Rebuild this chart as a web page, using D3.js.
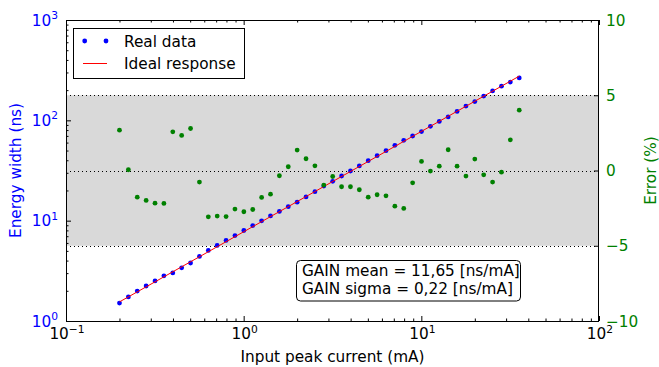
<!DOCTYPE html>
<html lang="en">
<head>
<meta charset="utf-8">
<script src="https://d3js.org/d3.v7.min.js"></script>
<style>
  body { margin: 0; background: #fff; }
  svg text { font-family: "DejaVu Sans", sans-serif; }
</style>
</head>
<body>
<script>
  // input peak current (mA)
  const currentMA = [0.2, 0.2244, 0.2518, 0.2825, 0.317, 0.3557, 0.3991, 0.4477, 0.5024, 0.5637,
    0.6325, 0.7096, 0.7962, 0.8934, 1.0024, 1.1247, 1.2619, 1.4159, 1.5887, 1.7825,
    2.0, 2.244, 2.518, 2.825, 3.17, 3.557, 3.991, 4.477, 5.024, 5.637,
    6.325, 7.096, 7.962, 8.934, 10.02, 11.25, 12.62, 14.16, 15.89, 17.83,
    20.0, 22.44, 25.18, 28.25, 31.7, 35.57];
  // measured energy width (ns)
  const energyWidth = [1.508, 1.738, 1.986, 2.233, 2.51, 2.817, 3.013, 3.389, 3.785, 4.403,
    5.053, 5.666, 6.36, 7.101, 7.982, 8.942, 9.955, 11.15, 12.36, 13.78,
    15.29, 17.26, 19.45, 22.11, 24.66, 27.86, 31.26, 35.14, 39.62, 44.39,
    49.84, 56.3, 63.26, 69.8, 77.22, 87.2, 97.51, 108.2, 122.8, 138.7,
    153.8, 174.4, 196.6, 219.2, 240.7, 264.6];
  // error (%)
  const errorPct = [2.68, 0.05, -1.77, -1.99, -2.17, -2.19, 2.57, 2.33, 2.79, -0.77,
    -3.08, -3.03, -3.06, -2.56, -2.74, -2.59, -1.79, -1.57, -0.35, 0.25,
    1.36, 0.78, 0.31, -0.97, -0.4, -1.08, -1.08, -1.28, -1.77, -1.61,
    -1.68, -2.37, -2.52, -0.82, 0.6, -0.04, 0.29, 1.38, 0.29, -0.37,
    0.76, -0.29, -0.77, -0.11, 2.04, 4.01];
  // ideal response line
  const idealX = [0.2, 35.57];
  const idealY = [1.55, 275.7];

  const xExp = [-1, 0, 1, 2];
  const yExp = [0, 1, 2, 3];
  const errTicks = [-10, -5, 0, 5, 10];
  const errBand = [-5, 5];
  const errLines = [-5, 0, 5];

  const W = 659, H = 367;
  const L = 66, R = 599, T = 20, B = 321;
  const fs = 15.3, fsSup = 10.7;

  const svg = d3.select("body").append("svg")
    .attr("width", W).attr("height", H);

  const x = d3.scaleLog().domain([0.1, 100]).range([L, R]);
  const y = d3.scaleLog().domain([1, 1000]).range([B, T]);
  const yErr = d3.scaleLinear().domain([-10, 10]).range([B, T]);

  // grey band and dotted guide lines
  svg.append("rect")
    .attr("x", L).attr("width", R - L)
    .attr("y", yErr(errBand[1])).attr("height", yErr(errBand[0]) - yErr(errBand[1]))
    .attr("fill", "#d9d9d9");

  svg.selectAll(".guide").data(errLines).enter().append("line")
    .attr("x1", L).attr("x2", R)
    .attr("y1", d => Math.round(yErr(d)) + 0.5).attr("y2", d => Math.round(yErr(d)) + 0.5)
    .attr("stroke", "#000").attr("stroke-width", 1)
    .attr("stroke-dasharray", "1,3");

  // real data
  svg.selectAll(".real").data(currentMA).enter().append("circle")
    .attr("cx", d => x(d))
    .attr("cy", (d, i) => y(energyWidth[i]))
    .attr("r", 2.4)
    .attr("fill", "#0000ff");

  // ideal response
  svg.append("path")
    .datum(idealX.map((d, i) => [d, idealY[i]]))
    .attr("fill", "none").attr("stroke", "#ff0000").attr("stroke-width", 1)
    .attr("d", d3.line().x(d => x(d[0])).y(d => y(d[1])));

  // error points (twin axis)
  svg.selectAll(".err").data(currentMA).enter().append("circle")
    .attr("cx", d => x(d))
    .attr("cy", (d, i) => yErr(errorPct[i]))
    .attr("r", 2.4)
    .attr("fill", "#008000");

  // ticks
  const isMajor = v => Math.abs(Math.log10(v) - Math.round(Math.log10(v))) < 1e-6;
  const xt = x.ticks();
  const yt = y.ticks();

  function logTicks(g, axis, ticks) {
    g.call(axis.tickValues(ticks).tickFormat("").tickSizeOuter(0));
    g.select(".domain").remove();
    g.selectAll(".tick line").attr("stroke", "#000");
  }

  const gBottom = svg.append("g").attr("transform", `translate(0,${B})`);
  logTicks(gBottom, d3.axisBottom(x).tickSizeInner(-5), xt);
  gBottom.selectAll(".tick line").attr("y2", d => isMajor(d) ? -5 : -2.5);

  const gTop = svg.append("g").attr("transform", `translate(0,${T})`);
  logTicks(gTop, d3.axisTop(x).tickSizeInner(-5), xt);
  gTop.selectAll(".tick line").attr("y2", d => isMajor(d) ? 5 : 2.5);

  const gLeft = svg.append("g").attr("transform", `translate(${L},0)`);
  logTicks(gLeft, d3.axisLeft(y).tickSizeInner(-5), yt);
  gLeft.selectAll(".tick line").attr("x2", d => isMajor(d) ? 5 : 2.5);

  const gRight = svg.append("g").attr("transform", `translate(${R},0)`);
  gRight.call(d3.axisRight(yErr).tickValues(errTicks).tickSizeInner(-5).tickSizeOuter(0).tickFormat(""));
  gRight.select(".domain").remove();
  gRight.selectAll(".tick line").attr("stroke", "#000");

  // frame
  svg.append("rect")
    .attr("x", L + 0.5).attr("y", T + 0.5)
    .attr("width", R - L - 1).attr("height", B - T)
    .attr("fill", "none").attr("stroke", "#000").attr("stroke-width", 1);

  // tick labels
  const minus = n => String(n).replace("-", "\u2212");

  function powLabel(sel) {
    sel.append("tspan").text("10");
    sel.append("tspan").attr("dy", -6.5).attr("font-size", fsSup).text(d => minus(d));
  }

  svg.selectAll(".xl").data(xExp).enter().append("text")
    .attr("x", d => x(Math.pow(10, d)) + 1)
    .attr("y", 339)
    .attr("text-anchor", "middle")
    .attr("font-size", fs).attr("fill", "#000")
    .call(powLabel);

  svg.selectAll(".yl").data(yExp).enter().append("text")
    .attr("x", 58)
    .attr("y", d => y(Math.pow(10, d)) + 5.5)
    .attr("text-anchor", "end")
    .attr("font-size", fs).attr("fill", "#0000ff")
    .call(powLabel);

  svg.selectAll(".el").data(errTicks).enter().append("text")
    .attr("x", 606)
    .attr("y", d => yErr(d) + 5.5)
    .attr("font-size", fs).attr("fill", "#008000")
    .text(d => minus(d));

  // axis titles
  svg.append("text")
    .attr("x", (L + R) / 2).attr("y", 362)
    .attr("text-anchor", "middle").attr("font-size", fs)
    .text("Input peak current (mA)");

  svg.append("text")
    .attr("transform", `translate(21,${(T + B) / 2}) rotate(-90)`)
    .attr("text-anchor", "middle").attr("font-size", fs).attr("fill", "#0000ff")
    .text("Energy width (ns)");

  svg.append("text")
    .attr("transform", `translate(655.5,${(T + B) / 2}) rotate(-90)`)
    .attr("text-anchor", "middle").attr("font-size", fs).attr("fill", "#008000")
    .text("Error (%)");

  // legend
  const lg = svg.append("g");
  lg.append("rect")
    .attr("x", 73.5).attr("y", 28.5).attr("width", 171).attr("height", 50)
    .attr("fill", "#fff").attr("stroke", "#000").attr("stroke-width", 1);
  lg.selectAll(".lm").data([84.7, 106]).enter().append("circle")
    .attr("cx", d => d).attr("cy", 41).attr("r", 2.4).attr("fill", "#0000ff");
  lg.append("line")
    .attr("x1", 83).attr("x2", 107).attr("y1", 63.5).attr("y2", 63.5)
    .attr("stroke", "#ff0000").attr("stroke-width", 1);
  lg.append("text").attr("x", 124).attr("y", 46.5).attr("font-size", fs).text("Real data");
  lg.append("text").attr("x", 124).attr("y", 69).attr("font-size", fs).text("Ideal response");

  // gain annotation
  const ann = ["GAIN mean = 11,65 [ns/mA]", "GAIN sigma = 0,22 [ns/mA]"];
  svg.append("rect")
    .attr("x", 296.5).attr("y", 260.5).attr("width", 224).attr("height", 40.5)
    .attr("rx", 4).attr("ry", 4)
    .attr("fill", "#fff").attr("stroke", "#000").attr("stroke-width", 1);
  svg.selectAll(".ann").data(ann).enter().append("text")
    .attr("x", 302).attr("y", (d, i) => 276 + i * 18.3)
    .attr("font-size", fs).text(d => d);
</script>
</body>
</html>
